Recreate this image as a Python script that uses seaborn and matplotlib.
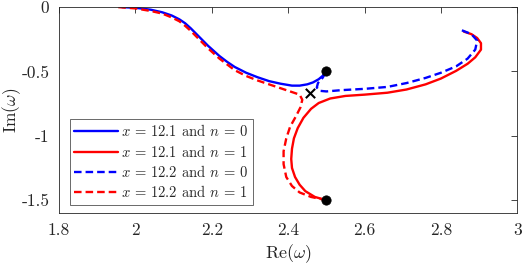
import numpy as np
import pandas as pd
import seaborn as sns
import matplotlib.pyplot as plt

# ---- data ----
# x = 12.1, n = 0  (blue solid)
re_121_n0 = [1.965, 2.00, 2.04, 2.07, 2.095, 2.115, 2.13, 2.145, 2.16, 2.175, 2.19, 2.205,
             2.22, 2.24, 2.26, 2.29, 2.32, 2.35, 2.38, 2.41, 2.43, 2.45, 2.465, 2.48, 2.49, 2.50]
im_121_n0 = [0.0, -0.005, -0.02, -0.04, -0.065, -0.095, -0.125, -0.165, -0.21, -0.255, -0.30, -0.34,
             -0.38, -0.425, -0.465, -0.51, -0.545, -0.575, -0.595, -0.61, -0.61, -0.60, -0.585,
             -0.56, -0.535, -0.50]

# x = 12.1, n = 1  (red solid)
re_121_n1 = [2.50, 2.47, 2.445, 2.43, 2.418, 2.41, 2.408, 2.41, 2.415, 2.425, 2.44, 2.46, 2.48, 2.51,
             2.55, 2.60, 2.66, 2.71, 2.76, 2.80, 2.84, 2.87, 2.89, 2.905, 2.905, 2.895, 2.88, 2.86]
im_121_n1 = [-1.50, -1.475, -1.43, -1.38, -1.32, -1.25, -1.18, -1.10, -1.02, -0.94, -0.86, -0.79, -0.745, -0.71,
             -0.69, -0.68, -0.665, -0.64, -0.60, -0.555, -0.495, -0.44, -0.39, -0.33, -0.28, -0.24, -0.21, -0.19]

# x = 12.2, n = 0  (blue dashed)
re_122_n0 = [2.855, 2.88, 2.895, 2.89, 2.87, 2.84, 2.80, 2.76, 2.71, 2.66, 2.60, 2.54,
             2.50, 2.482, 2.475, 2.478, 2.49, 2.50]
im_122_n0 = [-0.18, -0.21, -0.26, -0.33, -0.40, -0.46, -0.51, -0.55, -0.59, -0.62, -0.635, -0.645,
             -0.655, -0.65, -0.625, -0.59, -0.55, -0.50]

# x = 12.2, n = 1  (red dashed)
re_122_n1 = [1.955, 2.00, 2.04, 2.07, 2.095, 2.115, 2.13, 2.145, 2.16, 2.175, 2.19, 2.205,
             2.22, 2.24, 2.26, 2.29, 2.32, 2.35, 2.38, 2.41, 2.43, 2.437, 2.432, 2.42, 2.405,
             2.395, 2.388, 2.388, 2.395, 2.41, 2.43, 2.46, 2.50]
im_122_n1 = [0.0, -0.01, -0.03, -0.05, -0.08, -0.11, -0.145, -0.185, -0.23, -0.275, -0.32, -0.36,
             -0.40, -0.445, -0.49, -0.535, -0.57, -0.60, -0.63, -0.66, -0.68, -0.72, -0.78, -0.85, -0.93,
             -1.02, -1.12, -1.22, -1.32, -1.39, -1.44, -1.475, -1.50]

# start points and the crossing
dots_re = [2.5, 2.5]
dots_im = [-0.5, -1.5]
cross_re = [2.458]
cross_im = [-0.67]

xticks = [1.8, 2.0, 2.2, 2.4, 2.6, 2.8, 3.0]
xtick_labels = ['1.8', '2', '2.2', '2.4', '2.6', '2.8', '3']
yticks = [0, -0.5, -1, -1.5]
ytick_labels = ['0', '-0.5', '-1', '-1.5']

# ---- styling ----
sns.set_style('white')
plt.rcParams['font.family'] = ['serif']
plt.rcParams['font.serif'] = ['cmr10', 'DejaVu Serif']
plt.rcParams['mathtext.fontset'] = 'cm'
plt.rcParams['axes.unicode_minus'] = False

fig = plt.figure(figsize=(5.23, 2.64), dpi=100)
ax = fig.add_axes([0.113, 0.193, 0.876, 0.780])

series = [
    (re_121_n0, im_121_n0, 'blue', '-', r'$x$ = 12.1 and $n$ = 0'),
    (re_121_n1, im_121_n1, 'red', '-', r'$x$ = 12.1 and $n$ = 1'),
    (re_122_n0, im_122_n0, 'blue', '--', r'$x$ = 12.2 and $n$ = 0'),
    (re_122_n1, im_122_n1, 'red', '--', r'$x$ = 12.2 and $n$ = 1'),
]
for re_, im_, col, ls, lab in series:
    df = pd.DataFrame({'re': re_, 'im': im_})
    sns.lineplot(data=df, x='re', y='im', sort=False, estimator=None, ax=ax,
                 color=col, linewidth=1.7, label=lab)
    if ls == '--':
        ax.lines[-1].set_dashes([3.2, 1.7])

sns.scatterplot(x=dots_re, y=dots_im, color='black', s=45, edgecolor='black', ax=ax, zorder=5)
sns.scatterplot(x=cross_re, y=cross_im, color='black', marker='x', s=45, linewidth=1.5, ax=ax, zorder=5)

ax.set_xlim(1.8, 3.0)
ax.set_ylim(-1.6, 0)
ax.set_xticks(xticks)
ax.set_xticklabels(xtick_labels)
ax.set_yticks(yticks)
ax.set_yticklabels(ytick_labels)
ax.tick_params(direction='in', top=True, right=True, length=4, width=0.6,
               labelsize=12.5, color='#262626', labelcolor='#262626', pad=7)
for sp in ax.spines.values():
    sp.set_color('#262626')
    sp.set_linewidth(0.6)

ax.set_xlabel(r'Re($\omega$)', fontsize=13)
ax.set_ylabel(r'Im($\omega$)', fontsize=12.5)
ax.xaxis.set_label_coords(0.5, -0.14)
ax.yaxis.set_label_coords(-0.078, 0.5)

leg = ax.legend(loc='lower left', bbox_to_anchor=(0.024, 0.04), fontsize=10.5,
                frameon=True, fancybox=False, edgecolor='#262626',
                handlelength=3.0, handletextpad=0.2, borderpad=0.3,
                labelspacing=0.3, borderaxespad=0)
leg.get_frame().set_linewidth(0.6)
for h in leg.get_lines()[2:]:
    h.set_dashes([3.2, 1.7])

fig.savefig('out.png', dpi=100)
